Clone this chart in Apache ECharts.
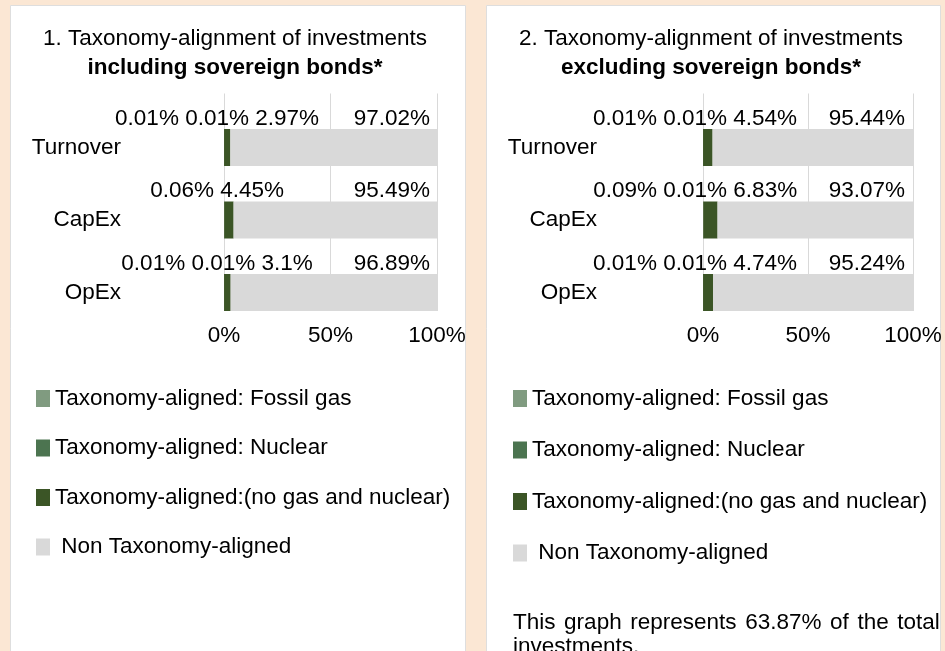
<!DOCTYPE html>
<html>
<head>
<meta charset="utf-8">
<script src="https://cdn.jsdelivr.net/npm/echarts@6/dist/echarts.min.js"></script>
<style>
html,body{margin:0;padding:0;background:#FBE7D4;}
#c{width:945px;height:651px;}
</style>
</head>
<body>
<div id="c"></div>
<script>
// ---- data ----
const categories = ['Turnover', 'CapEx', 'OpEx'];
const seriesNames = ['Taxonomy-aligned: Fossil gas', 'Taxonomy-aligned: Nuclear', 'Taxonomy-aligned:(no gas and nuclear)', 'Non Taxonomy-aligned'];
const inclGas = [0.01, 0.06, 0.01];
const inclNuclear = [0.01, 0, 0.01];
const inclAligned = [2.97, 4.45, 3.1];
const inclNon = [97.02, 95.49, 96.89];
const exclGas = [0.01, 0.09, 0.01];
const exclNuclear = [0.01, 0.01, 0.01];
const exclAligned = [4.54, 6.83, 4.74];
const exclNon = [95.44, 93.07, 95.24];
const xTicks = [0, 50, 100];
const coverageShare = '63.87%';
const title1 = ['1. Taxonomy-alignment of investments', 'including sovereign bonds*'];
const title2 = ['2. Taxonomy-alignment of investments', 'excluding sovereign bonds*'];

const FONT = "'Liberation Sans', Arial, sans-serif";
const FS = 22.5;
const colors = ['#809B80', '#4C7450', '#3B5526', '#D9D9D9'];

function makeSeries(idx, gas, nuc, al, non, offsetX) {
  const common = { type: 'bar', xAxisIndex: idx, yAxisIndex: idx, stack: 's' + idx, barWidth: 37 };
  return [
    { type: 'bar', xAxisIndex: idx, yAxisIndex: idx, name: '_spacer' + idx, data: [null, null, null], barWidth: 35.5, barGap: '0%', silent: true, itemStyle: { color: 'transparent' } },
    Object.assign({}, common, { name: seriesNames[0], data: gas, itemStyle: { color: colors[0] } }),
    Object.assign({}, common, { name: seriesNames[1], data: nuc, itemStyle: { color: colors[1] } }),
    Object.assign({}, common, {
      name: seriesNames[2], data: al, itemStyle: { color: colors[2] },
      label: {
        show: true, position: [0, 0], offset: [offsetX, -10.5], align: 'center', verticalAlign: 'middle',
        fontSize: FS, fontFamily: FONT, color: '#000',
        formatter: p => { const i = p.dataIndex; return [gas[i], nuc[i], al[i]].filter(v => v > 0).map(v => v + '%').join(' '); }
      }
    }),
    Object.assign({}, common, {
      name: seriesNames[3], data: non, itemStyle: { color: colors[3] },
      label: {
        show: true, position: ['100%', 0], offset: [offsetX, -10.5], align: 'right', verticalAlign: 'middle',
        fontSize: FS, fontFamily: FONT, color: '#000',
        formatter: p => non[p.dataIndex] + '%'
      }
    })
  ];
}

function xAxis(idx) {
  return {
    type: 'value', gridIndex: idx, min: xTicks[0], max: xTicks[xTicks.length - 1], interval: xTicks[1] - xTicks[0],
    axisLine: { show: false }, axisTick: { show: false },
    splitLine: { show: true, lineStyle: { color: '#D9D9D9', width: 1 } },
    axisLabel: { formatter: '{value}%', fontSize: FS, fontFamily: FONT, color: '#000', margin: 13 }
  };
}
function yAxis(idx, margin) {
  return {
    type: 'category', gridIndex: idx, data: categories, inverse: true,
    axisLine: { show: false }, axisTick: { show: false }, splitLine: { show: false },
    axisLabel: { fontSize: FS, fontFamily: FONT, color: '#000', margin: margin, verticalAlign: 'top', lineHeight: 36 }
  };
}

function legend(left, top, gap) {
  return {
    orient: 'vertical', left: left, top: top, padding: 0, itemWidth: 14, itemHeight: 17, itemGap: gap,
    icon: 'rect', data: seriesNames, selectedMode: false,
    formatter: n => (n === seriesNames[3] ? ' ' + n : n),
    textStyle: { fontSize: FS, fontFamily: FONT, color: '#000' }
  };
}

function titleText(x, lines) {
  return {
    type: 'text', x: x, y: 24.5, z: 10,
    style: {
      text: '{n|' + lines[0] + '}\n{b|' + lines[1] + '}',
      align: 'center', verticalAlign: 'top',
      rich: {
        n: { fontSize: FS, fontFamily: FONT, color: '#000', lineHeight: 29, align: 'center' },
        b: { fontSize: FS, fontFamily: FONT, color: '#000', fontWeight: 'bold', lineHeight: 29, align: 'center' }
      }
    }
  };
}

const footWords = ['This', 'graph', 'represents', coverageShare, 'of', 'the', 'total'];
const footLine1 = footWords.join('{s| }');

const option = {
  backgroundColor: '#FBE7D4',
  animation: false,
  grid: [
    { left: 224, width: 213, top: 93.5, height: 217.5 },
    { left: 703, width: 210, top: 93.5, height: 217.5 }
  ],
  xAxis: [xAxis(0), xAxis(1)],
  yAxis: [yAxis(0, 103), yAxis(1, 106)],
  legend: [legend(36, 387, 26.5), legend(513, 387, 28.5)],
  graphic: [
    { type: 'rect', z: -10, shape: { x: 10.5, y: 5.5, width: 455, height: 700 }, style: { fill: '#fff', stroke: '#DEDEDE', lineWidth: 1 } },
    { type: 'rect', z: -10, shape: { x: 486.5, y: 5.5, width: 454, height: 700 }, style: { fill: '#fff', stroke: '#DEDEDE', lineWidth: 1 } },
    titleText(235, title1),
    titleText(711, title2),
    {
      type: 'text', x: 513, y: 611, z: 10,
      style: {
        text: '{t|' + footLine1.replace(/\{s\| \}/g, '}{s| }{t|') + '}\n{t|investments.}',
        rich: {
          t: { fontSize: FS, fontFamily: FONT, color: '#000', lineHeight: 24 },
          s: { fontSize: FS, fontFamily: FONT, width: 8.6, lineHeight: 24 }
        }
      }
    }
  ],
  series: [].concat(
    makeSeries(0, inclGas, inclNuclear, inclAligned, inclNon, -7),
    makeSeries(1, exclGas, exclNuclear, exclAligned, exclNon, -8)
  )
};

const chart = echarts.init(document.getElementById('c'), null, { renderer: 'canvas' });
chart.setOption(option);
</script>
</body>
</html>
